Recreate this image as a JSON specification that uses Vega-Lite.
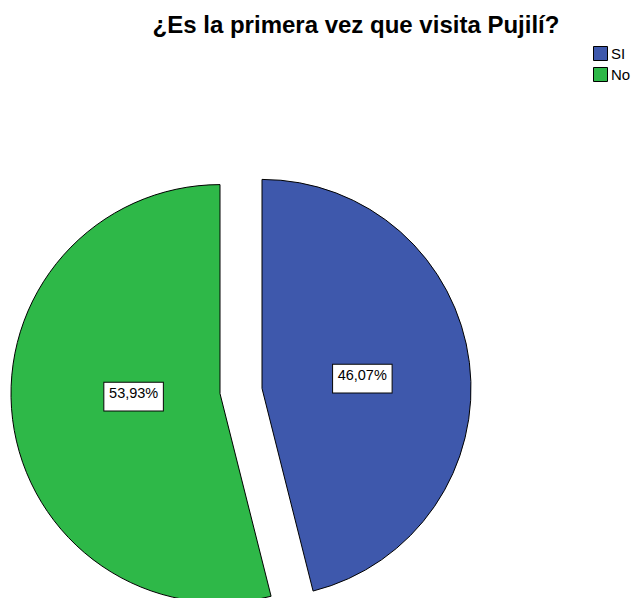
{
  "$schema": "https://vega.github.io/schema/vega-lite/v6.json",
  "width": 482,
  "height": 418,
  "autosize": {"type": "none"},
  "padding": {"left": 0, "top": 182, "right": 151, "bottom": 0},
  "background": "white",
  "title": {
    "text": "¿Es la primera vez que visita Pujilí?",
    "font": "Liberation Sans",
    "fontSize": 24,
    "fontWeight": "bold",
    "color": "black",
    "anchor": "middle",
    "dx": 115,
    "offset": 8
  },
  "data": {
    "values": [
      {"respuesta": "SI", "pct": 46.07, "etiqueta": "46,07%"},
      {"respuesta": "No", "pct": 53.93, "etiqueta": "53,93%"}
    ]
  },
  "encoding": {
    "theta": {"field": "pct", "type": "quantitative", "stack": true},
    "order": {"field": "pct", "type": "quantitative", "sort": "ascending"}
  },
  "layer": [
    {
      "mark": {"type": "arc", "stroke": "black", "strokeWidth": 1, "xOffset": 21, "yOffset": -2.6},
      "encoding": {
        "color": {
          "field": "respuesta",
          "type": "nominal",
          "scale": {"domain": ["SI", "No"], "range": ["#3E58AC", "#2EB848"]},
          "legend": {
            "title": null,
            "orient": "none",
            "legendX": 593,
            "legendY": -136,
            "symbolType": "square",
            "symbolSize": 196,
            "symbolStrokeColor": "black",
            "symbolStrokeWidth": 1,
            "labelFont": "Liberation Sans Narrow, Liberation Sans",
            "labelFontSize": 15,
            "labelColor": "black",
            "rowPadding": 2,
            "labelOffset": 3,
            "padding": 0
          }
        },
        "opacity": {"condition": {"test": "datum.respuesta === 'SI'", "value": 1}, "value": 0}
      }
    },
    {
      "mark": {"type": "arc", "stroke": "black", "strokeWidth": 1, "xOffset": -21, "yOffset": 2.6},
      "encoding": {
        "color": {"field": "respuesta", "type": "nominal"},
        "opacity": {"condition": {"test": "datum.respuesta === 'No'", "value": 1}, "value": 0}
      }
    },
    {
      "mark": {"type": "text", "text": "▬", "font": "DejaVu Sans", "fontSize": 78, "radius": 101, "fill": "white", "stroke": "black", "strokeWidth": 1, "dx": 21, "dy": -2.6},
      "encoding": {
        "opacity": {"condition": {"test": "datum.respuesta === 'SI'", "value": 1}, "value": 0}
      }
    },
    {
      "mark": {"type": "text", "text": "▬", "font": "DejaVu Sans", "fontSize": 78, "radius": 88, "fill": "white", "stroke": "black", "strokeWidth": 1, "dx": -20, "dy": -8},
      "encoding": {
        "opacity": {"condition": {"test": "datum.respuesta === 'No'", "value": 1}, "value": 0}
      }
    },
    {
      "mark": {"type": "text", "font": "Liberation Sans", "fontSize": 14.5, "color": "black", "radius": 101, "dx": 21, "dy": -2.6},
      "encoding": {
        "text": {"field": "etiqueta", "type": "nominal"},
        "opacity": {"condition": {"test": "datum.respuesta === 'SI'", "value": 1}, "value": 0}
      }
    },
    {
      "mark": {"type": "text", "font": "Liberation Sans", "fontSize": 14.5, "color": "black", "radius": 88, "dx": -20, "dy": -8},
      "encoding": {
        "text": {"field": "etiqueta", "type": "nominal"},
        "opacity": {"condition": {"test": "datum.respuesta === 'No'", "value": 1}, "value": 0}
      }
    }
  ],
  "config": {"view": {"stroke": null}}
}
